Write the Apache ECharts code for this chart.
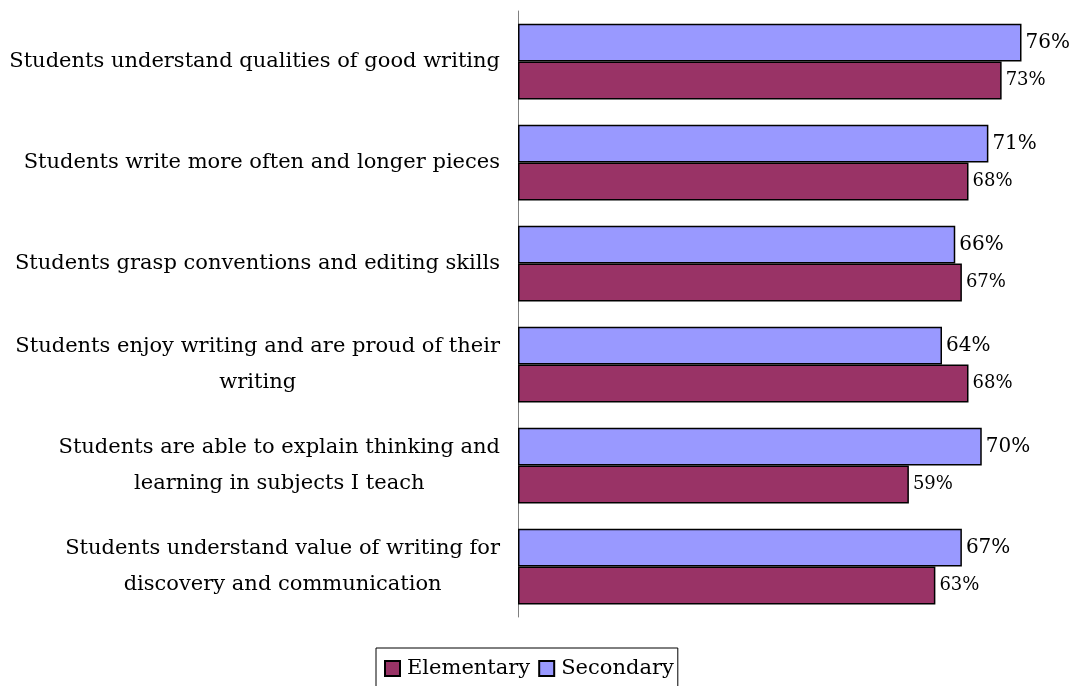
<!DOCTYPE html>
<html>
<head>
<meta charset="utf-8">
<script src="https://cdn.jsdelivr.net/npm/echarts@6/dist/echarts.min.js"></script>
<style>
  html, body { margin: 0; padding: 0; background: #fff; }
  #chart { width: 1076px; height: 686px; }
</style>
</head>
<body>
<div id="chart"></div>
<script>
// Survey outcomes, top to bottom
const categories = [
  'Students understand qualities of good writing',
  'Students write more often and longer pieces',
  'Students grasp conventions and editing skills',
  'Students enjoy writing and are proud of their\nwriting',
  'Students are able to explain thinking and\nlearning in subjects I teach',
  'Students understand value of writing for\ndiscovery and communication'
];
const secondary = [76, 71, 66, 64, 70, 67];
const elementary = [73, 68, 67, 68, 59, 63];

const FONT = '"DejaVu Serif", serif';
const chart = echarts.init(document.getElementById('chart'));

chart.setOption({
  backgroundColor: '#ffffff',
  animation: false,
  textStyle: { fontFamily: FONT, color: '#000' },
  grid: { left: 518, top: 11, bottom: 69, right: 28 },
  xAxis: {
    type: 'value', min: 0, max: 80,
    axisLine: { show: false }, axisTick: { show: false },
    axisLabel: { show: false }, splitLine: { show: false }
  },
  yAxis: {
    type: 'category', inverse: true, data: categories,
    axisLine: { show: true, lineStyle: { color: '#808080', width: 1 } },
    axisTick: { show: false },
    axisLabel: {
      margin: 18, color: '#000', fontFamily: FONT, fontSize: 21,
      lineHeight: 36,
      formatter: v => v.split('\n').map(s => '{c|' + s + '}').join('\n'),
      rich: { c: { align: 'center', fontFamily: FONT, fontSize: 21, color: '#000', lineHeight: 36 } }
    }
  },
  legend: {
    data: ['Elementary', 'Secondary'],
    left: 376, top: 648,
    padding: [10, 4, 16, 8],
    borderColor: '#000', borderWidth: 1,
    itemWidth: 15, itemHeight: 15, itemGap: 8,
    icon: 'rect',
    textStyle: { fontFamily: FONT, fontSize: 21, color: '#000', padding: [0, 0, 0, 2] }
  },
  series: [
    {
      name: 'Secondary', type: 'bar', data: secondary,
      barGap: '0%', barCategoryGap: '25%',
      itemStyle: { color: '#9999FF', borderColor: '#000', borderWidth: 1.5 },
      label: { show: true, position: 'right', distance: 4, formatter: '{c}%', fontFamily: FONT, fontSize: 20, color: '#000' }
    },
    {
      name: 'Elementary', type: 'bar', data: elementary,
      barGap: '0%', barCategoryGap: '25%',
      itemStyle: { color: '#993366', borderColor: '#000', borderWidth: 1.5 },
      label: { show: true, position: 'right', distance: 4, formatter: '{c}%', fontFamily: FONT, fontSize: 18, color: '#000' }
    }
  ]
});
</script>
</body>
</html>
